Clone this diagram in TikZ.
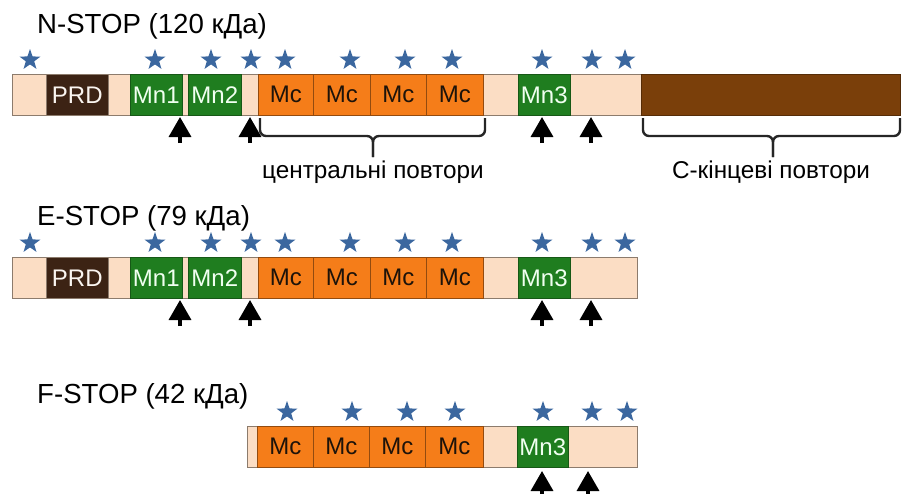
\documentclass[tikz,border=0pt]{standalone}
\usepackage{fontspec}
\setmainfont{Liberation Sans}
\usetikzlibrary{shapes.geometric,arrows.meta}

\definecolor{peach}{HTML}{FBDDC4}
\definecolor{prdbrown}{HTML}{3C2314}
\definecolor{mngreen}{HTML}{1F7D1F}
\definecolor{mcorange}{HTML}{F57D19}
\definecolor{ctbrown}{HTML}{7A3F0A}
\definecolor{starblue}{HTML}{3B679F}
\definecolor{edge}{HTML}{8C7B6C}

% domain box: name, left x, right x, top y, style, label
\newcommand{\domain}[6]{%
  \node[seg,#5,minimum width={(#3-#2)*1pt}] (#1) at (#2,#4) {\raisebox{-2pt}{#6}};}

\begin{document}
\begin{tikzpicture}[x=1pt,y=-1pt,
  seg/.style={draw=edge, line width=0.6pt, anchor=north west, inner sep=0pt,
              minimum height=41pt, font=\fontsize{24}{26}\selectfont},
  bar/.style={fill=peach},
  prd/.style={fill=prdbrown, text=white!92!brown},
  mn/.style={fill=mngreen, draw=mngreen!70!black, text=green!6!white},
  mc/.style={fill=mcorange, draw=mcorange!60!black, text=black!85!brown},
  ct/.style={fill=ctbrown, draw=ctbrown!70!black},
  title/.style={anchor=base west, inner sep=0pt, font=\fontsize{27.6}{30}\selectfont},
  note/.style={anchor=base, inner sep=0pt, font=\fontsize{24.3}{26}\selectfont},
  starmark/.style={star, star points=5, star point ratio=2.5, fill=starblue,
                   draw=none, minimum size=22pt, inner sep=0pt},
  uparrow/.style={line width=3.5pt, -{Triangle[length=20pt,width=22pt]}},
  bracket/.style={line width=2.4pt, draw=black!85, rounded corners=6pt}]
\useasboundingbox (0,0) rectangle (904,493);

% ---------------- N-STOP ----------------
\node[title] (tN) at (37,33) {N-STOP (120 кДа)};
\domain{barN}{12}{641}{74}{bar}{}
\domain{prdN}{46}{108}{74}{prd}{PRD}
\domain{mn1N}{130}{182}{74}{mn}{Mn1}
\domain{mn2N}{188}{241}{74}{mn}{Mn2}
\domain{mcaN}{258}{313}{74}{mc}{Mc}
\domain{mcbN}{313}{370}{74}{mc}{Mc}
\domain{mccN}{370}{426}{74}{mc}{Mc}
\domain{mcdN}{426}{483}{74}{mc}{Mc}
\domain{mn3N}{518}{570}{74}{mn}{Mn3}
\domain{ctN}{641}{900}{74}{ct}{}
\foreach \x in {30,155,211,251,285,350,405,452,542,592,625}
  \node[starmark] (sN\x) at (\x,60) {};
\foreach \x in {180,250,542,591}{
  \coordinate (aNb\x) at (\x,143);
  \coordinate (aNt\x) at (\x,117);
  \draw[uparrow] (aNb\x) -- (aNt\x);
}
% brace under the central repeats
\coordinate (bcL) at (260,118);
\coordinate (bcR) at (485,118);
\coordinate (bcM) at (373,136);
\coordinate (bcT) at (373,157);
\draw[bracket] (bcL) -- (260,136) -- (bcM) -- (bcT);
\draw[bracket] (bcR) -- (485,136) -- (bcM) -- (bcT);
\node[note] (lc) at (373,178) {центральні повтори};
% brace under the C-terminal repeats
\coordinate (btL) at (643,118);
\coordinate (btR) at (900,118);
\coordinate (btM) at (773,136);
\coordinate (btT) at (773,157);
\draw[bracket] (btL) -- (643,136) -- (btM) -- (btT);
\draw[bracket] (btR) -- (900,136) -- (btM) -- (btT);
\node[note] (lt) at (771,178) {С-кінцеві повтори};

% ---------------- E-STOP ----------------
\node[title] (tE) at (37,225) {E-STOP (79 кДа)};
\domain{barE}{12}{637}{257}{bar}{}
\domain{prdE}{46}{108}{257}{prd}{PRD}
\domain{mn1E}{130}{182}{257}{mn}{Mn1}
\domain{mn2E}{188}{241}{257}{mn}{Mn2}
\domain{mcaE}{258}{313}{257}{mc}{Mc}
\domain{mcbE}{313}{370}{257}{mc}{Mc}
\domain{mccE}{370}{426}{257}{mc}{Mc}
\domain{mcdE}{426}{483}{257}{mc}{Mc}
\domain{mn3E}{518}{570}{257}{mn}{Mn3}
\foreach \x in {30,155,211,251,285,350,405,452,542,592,625}
  \node[starmark] (sE\x) at (\x,243) {};
\foreach \x in {180,250,542,591}{
  \coordinate (aEb\x) at (\x,326);
  \coordinate (aEt\x) at (\x,300);
  \draw[uparrow] (aEb\x) -- (aEt\x);
}

% ---------------- F-STOP ----------------
\node[title] (tF) at (37,403) {F-STOP (42 кДа)};
\domain{barF}{247}{637}{426}{bar}{}
\domain{mcaF}{257}{313}{426}{mc}{Mc}
\domain{mcbF}{313}{369}{426}{mc}{Mc}
\domain{mccF}{369}{425}{426}{mc}{Mc}
\domain{mcdF}{425}{483}{426}{mc}{Mc}
\domain{mn3F}{517}{568}{426}{mn}{Mn3}
\foreach \x in {287,352,407,455,543,592,627}
  \node[starmark] (sF\x) at (\x,412) {};
\foreach \x in {542,588}{
  \coordinate (aFb\x) at (\x,497);
  \coordinate (aFt\x) at (\x,471);
  \draw[uparrow] (aFb\x) -- (aFt\x);
}
\end{tikzpicture}
\end{document}
